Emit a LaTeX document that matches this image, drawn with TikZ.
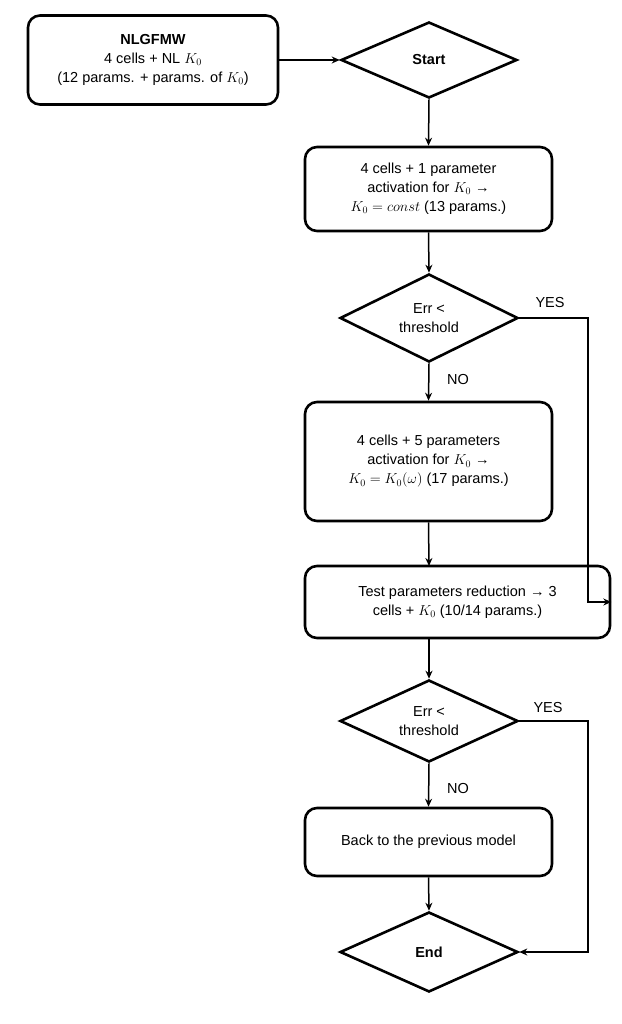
\documentclass[tikz,border=0pt]{standalone}
\usepackage{fontspec}
\setmainfont{Liberation Sans}
\usetikzlibrary{shapes.geometric,arrows.meta}
\begin{document}
\begin{tikzpicture}[x=1pt,y=-1pt,
  box/.style={draw,line width=2.6pt,rounded corners=12pt,align=center,font=\fontsize{14.5}{19}\selectfont},
  dia/.style={draw,line width=2.6pt,diamond,aspect=2.2,inner sep=0pt,align=center,font=\fontsize{14.5}{19}\selectfont},
  arr/.style={-{Stealth[length=8pt,width=7pt]},line width=1.5pt},
  lab/.style={font=\fontsize{14.5}{17}\selectfont}]
\useasboundingbox (0,0) rectangle (621,1024);
\node[box,minimum width=250pt,minimum height=89pt] (a) at (153,60) {\textbf{NLGFMW}\\4 cells + NL $K_0$\\(12 params. + params. of $K_0$)};
\node[dia,minimum width=176pt,minimum height=76pt] (s) at (429,60) {\textbf{Start}};
\node[box,minimum width=247pt,minimum height=84pt] (b) at (428.5,189) {4 cells + 1 parameter\\activation for $K_0$ →\\$K_0 = const$ (13 params.)};
\node[dia,minimum width=178pt,minimum height=88pt] (d1) at (429,318) {Err <\\threshold};
\node[box,minimum width=247pt,minimum height=119pt] (c) at (428.5,461.5) {4 cells + 5 parameters\\activation for $K_0$ →\\$K_0 = K_0(\omega)$ (17 params.)};
\node[box,minimum width=305pt,minimum height=72pt] (e) at (457.5,602) {Test parameters reduction → 3\\cells + $K_0$ (10/14 params.)};
\node[dia,minimum width=178pt,minimum height=82pt] (d2) at (429,721) {Err <\\threshold};
\node[box,minimum width=247pt,minimum height=68pt] (f) at (428.5,842) {Back to the previous model};
\node[dia,minimum width=178pt,minimum height=80pt] (g) at (429,952) {\textbf{End}};
\coordinate (r1) at (588,318); \coordinate (r2) at (588,721);
\draw[arr] (a.east) -- (s.west);
\draw[arr] (s.south) -- (b.north);
\draw[arr] (b.south) -- (d1.north);
\draw[arr] (d1.south) -- (c.north);
\draw[arr] (c.south) -- (429,566);
\draw[arr] (d1.east) -- (r1) |- (e.east);
\draw[arr] (429,638) -- (d2.north);
\draw[arr] (d2.south) -- (f.north);
\draw[arr] (f.south) -- (g.north);
\draw[arr] (d2.east) -- (r2) |- (g.east);
\node[lab] (y1) at (550,303) {YES};
\node[lab] (y2) at (548,708) {YES};
\node[lab] (n1) at (458,380) {NO};
\node[lab] (n2) at (458,788) {NO};
\end{tikzpicture}
\end{document}
